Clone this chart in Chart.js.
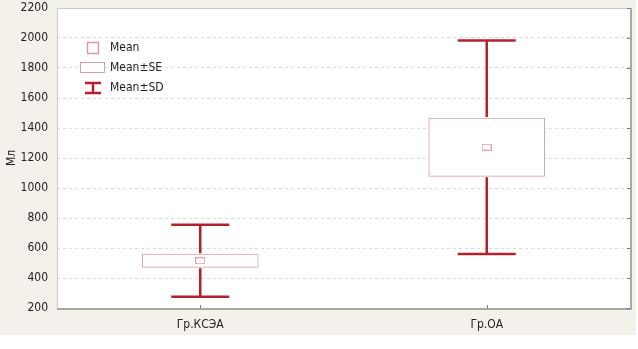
<!DOCTYPE html>
<html>
<head>
<meta charset="utf-8">
<script src="https://cdn.jsdelivr.net/npm/chart.js@4.4.1/dist/chart.umd.min.js"></script>
<style>
  html, body { margin: 0; padding: 0; background: #ffffff; }
  #wrap { width: 636px; height: 335px; background: #f4f0ea; position: relative; }
</style>
</head>
<body>
<div id="wrap"><canvas id="myChart"></canvas></div>
<script>
const groups = ["Гр.КСЭА", "Гр.ОА"];
const means = [515, 1272];
const seVals = [44, 194];
const sdVals = [240, 712];
const yMin = 200;
const yMax = 2200;
const yStep = 200;

const FONT = "'DejaVu Sans Condensed', 'Liberation Sans Narrow', 'Liberation Sans', sans-serif";
const darkRed = "#b3222c";
const pink = "#d99ea4";

// small hollow rectangle used as the mean marker
const meanMark = document.createElement("canvas");
meanMark.width = 10;
meanMark.height = 7;
(() => {
  const c = meanMark.getContext("2d");
  c.fillStyle = "#ffffff";
  c.fillRect(0, 0, 10, 7);
  c.strokeStyle = pink;
  c.lineWidth = 1;
  c.strokeRect(0.5, 0.5, 9, 6);
})();

// white plot background
const plotBg = {
  id: "plotBg",
  beforeDraw(chart) {
    const { ctx, chartArea: a } = chart;
    ctx.save();
    ctx.fillStyle = "#ffffff";
    ctx.fillRect(a.left, a.top, a.right - a.left, a.bottom - a.top);
    ctx.restore();
  },
};

// SD whiskers: from the SE box edges out to mean ± SD, with caps
const whiskers = {
  id: "whiskers",
  afterDatasetsDraw(chart) {
    const { ctx, scales } = chart;
    const x = scales.x, y = scales.y;
    ctx.save();
    ctx.strokeStyle = darkRed;
    ctx.lineWidth = 2.5;
    means.forEach((m, i) => {
      const px = x.getPixelForValue(i);
      const top = y.getPixelForValue(m + sdVals[i]);
      const bot = y.getPixelForValue(m - sdVals[i]);
      const boxTop = y.getPixelForValue(m + seVals[i]);
      const boxBot = y.getPixelForValue(m - seVals[i]);
      ctx.beginPath();
      ctx.moveTo(px, top);
      ctx.lineTo(px, boxTop - 1);
      ctx.moveTo(px, boxBot + 1);
      ctx.lineTo(px, bot);
      ctx.moveTo(px - 29, top);
      ctx.lineTo(px + 29, top);
      ctx.moveTo(px - 29, bot);
      ctx.lineTo(px + 29, bot);
      ctx.stroke();
    });
    ctx.restore();
  },
};

// plot frame, small tick marks and the legend
const frame = {
  id: "frame",
  afterDraw(chart) {
    const { ctx, chartArea: a, scales } = chart;
    ctx.save();
    ctx.strokeStyle = "#c9c9c9";
    ctx.lineWidth = 1;
    ctx.beginPath();
    ctx.moveTo(a.left + 0.5, a.bottom);
    ctx.lineTo(a.left + 0.5, a.top + 0.5);
    ctx.lineTo(a.right, a.top + 0.5);
    ctx.stroke();
    ctx.strokeStyle = "#a9a7a3";
    ctx.lineWidth = 2;
    ctx.beginPath();
    ctx.moveTo(a.right + 1, a.top);
    ctx.lineTo(a.right + 1, a.bottom + 1);
    ctx.lineTo(a.left, a.bottom + 1);
    ctx.stroke();

    ctx.strokeStyle = "#777";
    ctx.lineWidth = 1;
    ctx.beginPath();
    scales.y.ticks.forEach((t) => {
      const py = Math.round(scales.y.getPixelForValue(t.value)) + 0.5;
      ctx.moveTo(a.right - 3, py);
      ctx.lineTo(a.right, py);
    });
    groups.forEach((g, i) => {
      const px = Math.round(scales.x.getPixelForValue(i)) + 0.5;
      ctx.moveTo(px, a.bottom);
      ctx.lineTo(px, a.bottom - 3);
    });
    ctx.stroke();

    // legend
    ctx.font = "12px " + FONT;
    ctx.fillStyle = "#222";
    ctx.textBaseline = "middle";
    ctx.textAlign = "left";
    ctx.strokeStyle = pink;
    ctx.lineWidth = 1.5;
    ctx.strokeRect(87.5, 42.5, 11, 11);
    ctx.fillText("Mean", 110, 48);
    ctx.lineWidth = 1;
    ctx.fillStyle = "#ffffff";
    ctx.fillRect(80.5, 62.5, 24, 10);
    ctx.strokeRect(80.5, 62.5, 24, 10);
    ctx.fillStyle = "#222";
    ctx.fillText("Mean±SE", 110, 68);
    ctx.strokeStyle = darkRed;
    ctx.lineWidth = 2.5;
    ctx.beginPath();
    ctx.moveTo(85, 83); ctx.lineTo(101, 83);
    ctx.moveTo(93, 83); ctx.lineTo(93, 93);
    ctx.moveTo(85, 93); ctx.lineTo(101, 93);
    ctx.stroke();
    ctx.fillText("Mean±SD", 110, 88);
    ctx.restore();
  },
};

new Chart(document.getElementById("myChart"), {
  type: "bar",
  data: {
    labels: groups,
    datasets: [
      {
        type: "line",
        data: means,
        showLine: false,
        pointStyle: meanMark,
        pointRadius: 5,
        order: 0,
      },
      {
        data: means.map((m, i) => [m - seVals[i], m + seVals[i]]),
        backgroundColor: "#ffffff",
        borderColor: pink,
        borderWidth: 1,
        borderSkipped: false,
        barThickness: 116,
        order: 1,
      },
    ],
  },
  options: {
    responsive: true,
    maintainAspectRatio: false,
    animation: false,
    layout: { padding: { top: 8, right: 6, left: 0, bottom: 0 } },
    scales: {
      x: {
        offset: true,
        grid: { display: false, drawTicks: false },
        border: { display: false },
        ticks: { color: "#222", font: { family: FONT, size: 12 }, padding: 10 },
        afterFit: (s) => { s.height = 27; },
      },
      y: {
        min: yMin,
        max: yMax,
        grid: { color: "#dadada", drawTicks: false },
        border: { display: false, dash: [3, 3] },
        ticks: {
          stepSize: yStep,
          color: "#222",
          font: { family: FONT, size: 12 },
          padding: 9,
          callback: (v) => String(v),
        },
        title: {
          display: true,
          text: "Мл",
          color: "#222",
          font: { family: FONT, size: 12 },
          padding: { top: 5, bottom: 0 },
        },
        afterFit: (s) => {
          s.width = 57;
          s.paddingTop = 0;
          s.paddingBottom = 0;
        },
      },
    },
    plugins: {
      legend: { display: false },
      tooltip: { enabled: false },
    },
  },
  plugins: [plotBg, whiskers, frame],
});
</script>
</body>
</html>
